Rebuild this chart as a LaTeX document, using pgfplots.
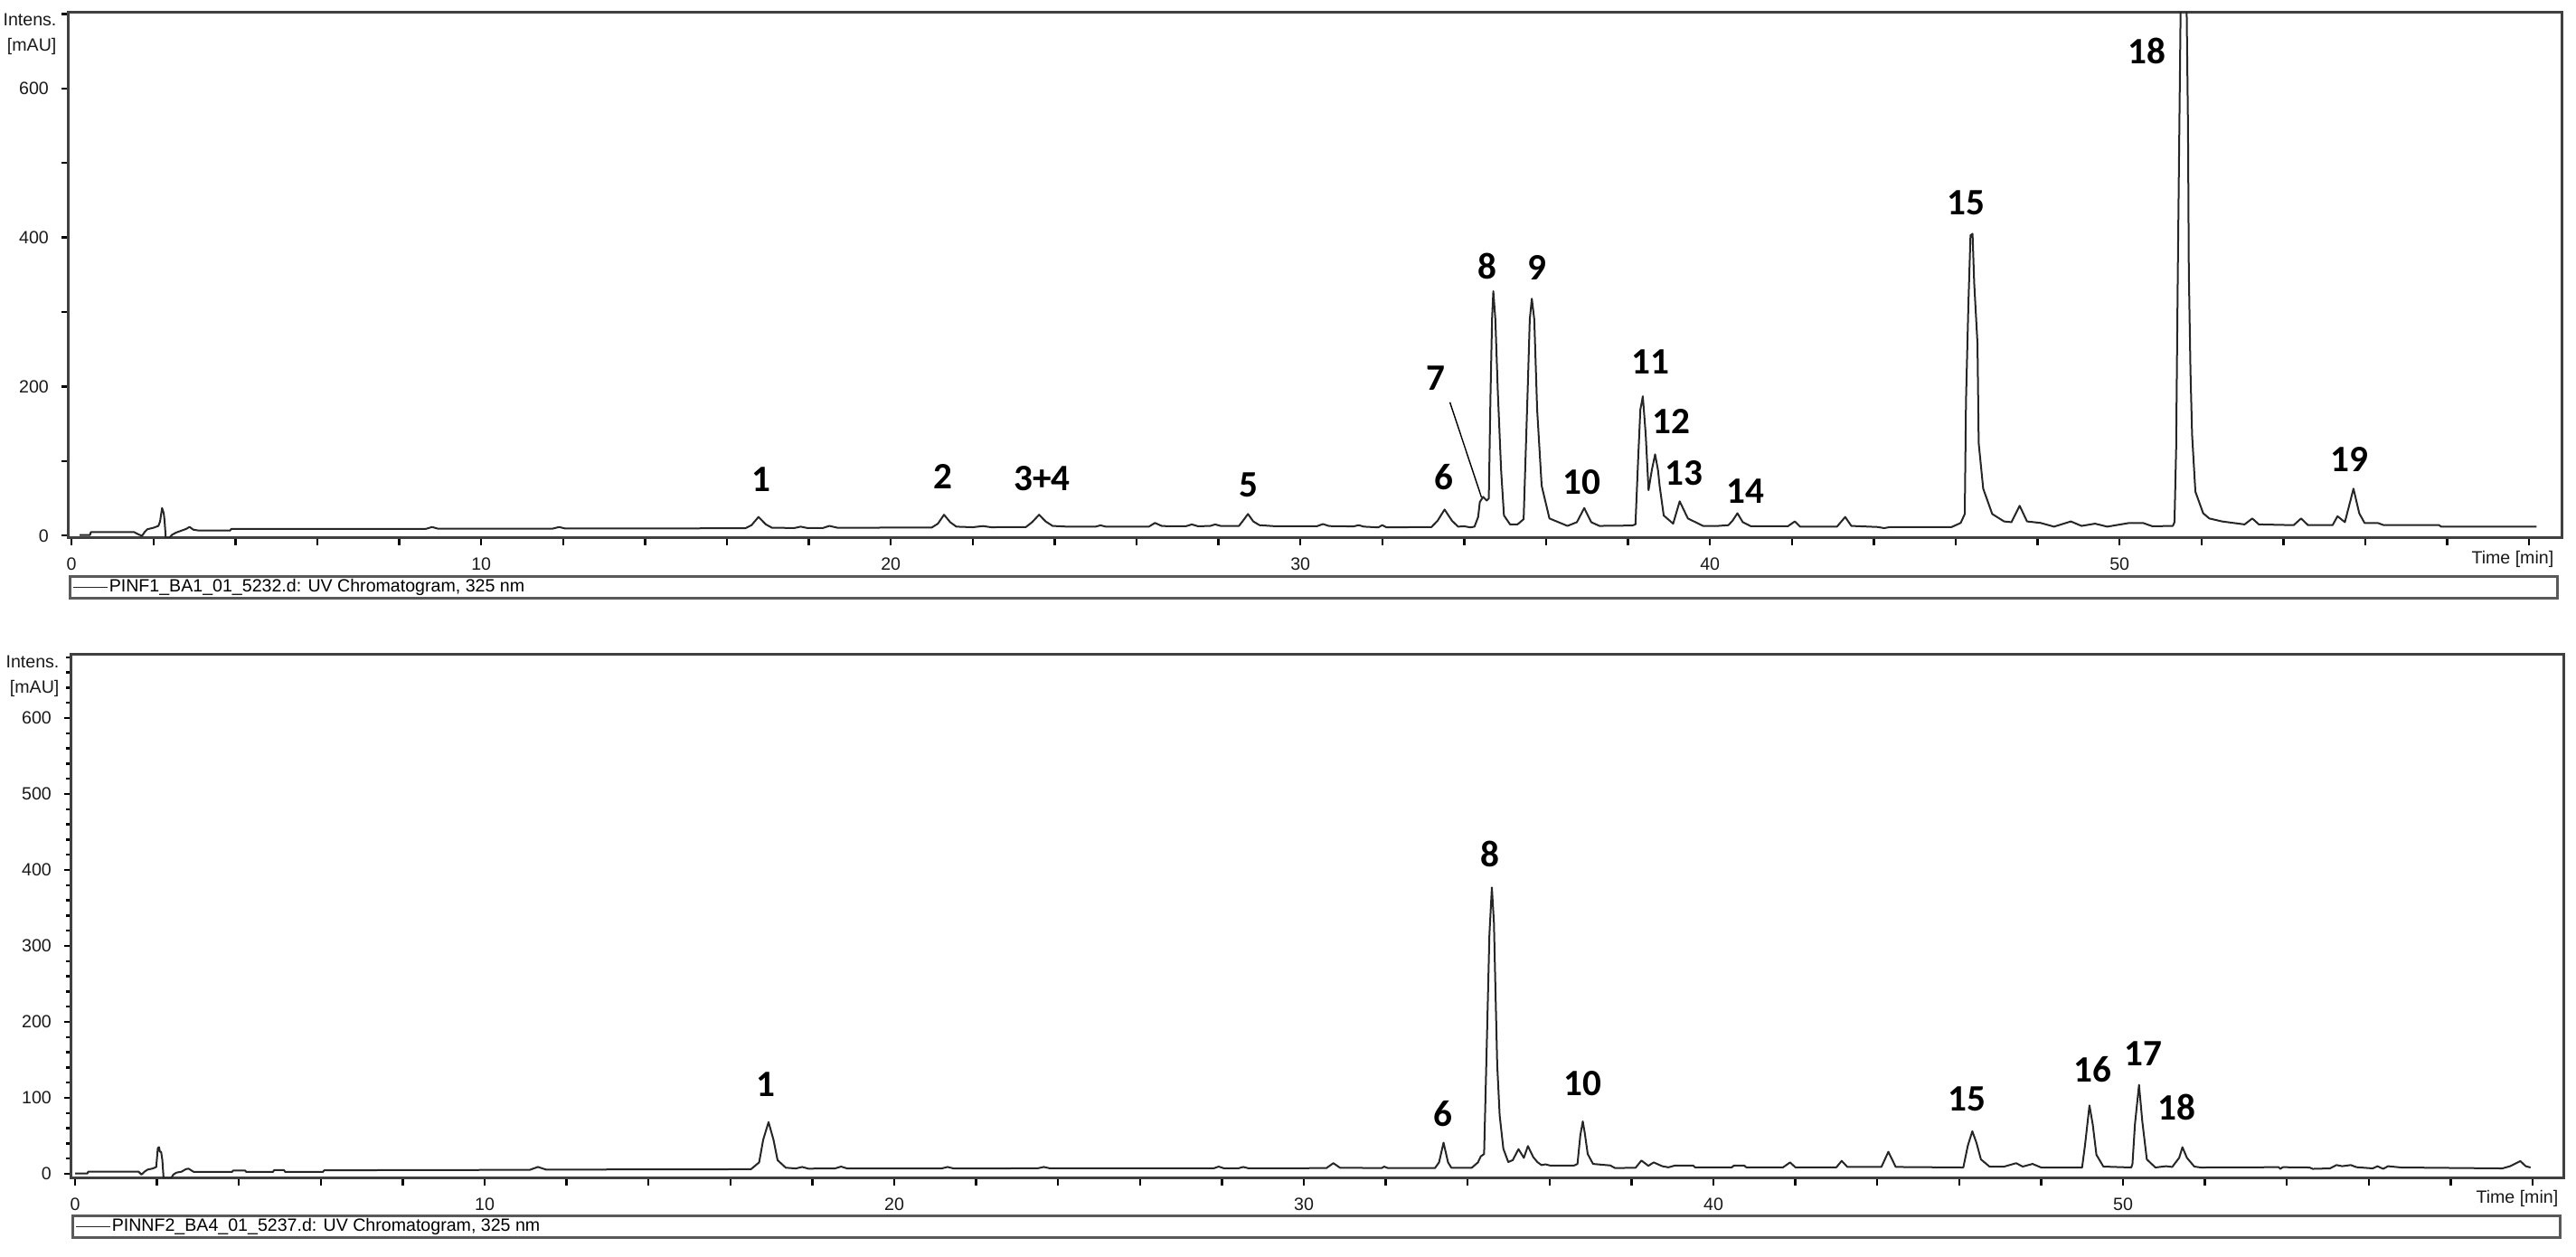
\documentclass[border=0pt]{standalone}
\usepackage{fontspec}
\setmainfont{Liberation Sans}
\newfontfamily\peakfont{Carlito}
\usepackage{pgfplots}
\pgfplotsset{compat=1.18}

\pgfplotsset{
  chrom/.style={
    scale only axis,
    axis line style={black!75, line width=0.75pt},
    tick style={black, line width=0.6pt},
    tick align=outside,
    major tick length=2pt,
    minor tick length=1.5pt,
    xtick pos=bottom, ytick pos=left,
    xtick={0,2,...,60},
    xticklabels={0,,,,,10,,,,,20,,,,,30,,,,,40,,,,,50,,,,,},
    tick label style={font=\fontsize{4.9}{5}\selectfont, text=black!90},
    /pgf/number format/assume math mode=true,
    every axis y label/.style={at={(axis description cs:0,1)}, anchor=north east,
      xshift=-3.2pt, align=right, inner sep=0pt,
      font=\fontsize{4.9}{7}\selectfont, text=black!90},
    legend image code/.code={\draw[black!85, line width=0.4pt] (0pt,0pt) -- (9.5pt,0pt);},
    legend cell align=left,
    legend style={anchor=north west, draw=black!65, line width=0.7pt,
      inner xsep=0.6pt, inner ysep=0.2pt, font=\fontsize{4.9}{5}\selectfont,
      nodes={inner sep=0.35pt, text height=3.8pt, text depth=1.1pt}},
  },
  trace/.style={black!85, line width=0.5pt, line join=round, no markers},
}
\tikzset{peak/.style={font=\peakfont\bfseries\fontsize{10.3}{12}\selectfont, inner sep=0pt}}

\begin{document}
\begin{tikzpicture}
\useasboundingbox (0,0) rectangle (712.25pt,347.5pt);

% ---- top run ----
\begin{axis}[chrom,
  at={(19pt,198.75pt)}, anchor=south west,
  width=689.25pt, height=145.25pt,
  xmin=-0.07, xmax=60.79, ymin=-3.3, ymax=701.8,
  ytick={0,100,...,700}, yticklabels={0,,200,,400,,600,},
  ylabel={Intens.\\{[mAU]}},
  xlabel={Time [min]},
  every axis x label/.style={at={(axis description cs:0.9971,0)}, anchor=east,
    yshift=-5.9pt, inner sep=0pt, font=\fontsize{4.9}{5}\selectfont, text=black!90},
  legend style={at={(0,-0.0706)}},
]
\addplot[trace] table {
0.20 0.7
0.45 0.7
0.47 4.6
1.53 4.6
1.62 2.0
1.72 -0.5
1.78 4.5
1.85 8.5
2.00 10.5
2.12 13
2.16 19
2.21 37
2.25 30
2.27 20
2.30 -3.3
2.38 -3.3
2.45 1
2.55 4
2.70 7
2.80 9
2.88 11.7
2.97 8
3.10 6.8
3.87 6.8
3.90 9
8.65 9
8.80 11.5
8.95 9.2
11.75 9.4
11.90 11.5
12.05 9.5
16.45 9.8
16.60 14
16.77 25
16.95 15
17.10 10.5
17.65 10.2
17.80 12
17.95 10.3
18.35 10.3
18.50 13
18.70 10.5
21.00 10.8
21.15 16
21.30 28
21.45 18
21.60 12
22.00 11.2
22.25 12.8
22.45 11.2
23.30 11.5
23.45 18
23.62 28
23.78 19
23.95 13
24.30 12
25.00 12
25.12 13.8
25.25 12
26.30 12
26.45 17
26.62 12.8
27.20 12.5
27.35 15
27.50 12.5
27.80 13
27.92 15
28.05 13
28.50 13
28.60 20
28.72 29
28.85 19
29.00 14
29.40 12.5
30.40 12.5
30.55 15.5
30.70 12.8
31.30 12.3
31.42 14
31.55 12
31.90 11
32.00 14
32.10 11
33.20 11.5
33.35 20
33.52 35
33.70 20
33.85 12
34.00 12.5
34.15 11
34.25 12
34.34 25
34.38 45
34.46 52
34.55 47
34.60 50
34.64 185
34.68 292
34.71 328
34.76 290
34.82 193
34.90 88
34.97 27
35.12 15
35.30 15
35.45 22
35.55 197
35.60 290
35.65 318
35.71 290
35.78 169
35.89 67
36.08 23
36.52 13
36.75 18
36.93 37
37.10 18
37.30 13
38.10 13.5
38.18 15
38.25 108
38.30 169
38.36 187
38.43 136
38.50 61
38.58 88
38.66 109
38.73 88
38.77 67
38.87 27
39.10 16
39.26 46
39.46 23
39.83 13
40.20 13
40.45 14
40.55 20
40.67 30
40.80 18
41.00 12.5
41.90 12.5
42.07 19
42.20 12
43.10 12
43.30 25
43.45 13
44.10 11.5
44.25 10
44.40 11.5
45.90 11.5
46.12 17
46.22 29
46.25 181
46.31 314
46.36 403
46.41 405
46.45 339
46.53 258
46.56 124
46.67 63
46.89 29
47.18 19
47.36 18
47.56 40
47.74 19
48.07 17
48.40 12
48.81 19
49.07 13
49.40 16
49.70 12
50.24 17
50.57 17
50.80 12.5
51.30 13
51.34 18
51.38 116
51.42 346
51.50 760
51.56 1200
51.63 740
51.67 549
51.69 355
51.73 221
51.77 135
51.85 59
52.04 30
52.19 23
52.50 19
53.05 15
53.24 23
53.40 15
54.25 14
54.43 23
54.60 14
55.20 14
55.32 26
55.50 18
55.71 63
55.85 30
55.98 17
56.30 17
56.45 14
57.80 14
57.85 12
60.18 12
};
\addlegendentry{\makebox[676pt][l]{PINF1\_BA1\_01\_5232.d: UV Chromatogram, 325 nm}}
\draw[black, line width=0.35pt] (axis cs:33.65,179) -- (axis cs:34.42,51.5);
\node[peak] at (axis cs:16.83,76) {1};
\node[peak] at (axis cs:21.28,79) {2};
\node[peak] at (axis cs:23.69,77) {3+4};
\node[peak] at (axis cs:28.74,68) {5};
\node[peak] at (axis cs:33.50,79) {6};
\node[peak] at (axis cs:33.31,211) {7};
\node[peak] at (axis cs:34.57,362) {8};
\node[peak] at (axis cs:35.77,359) {9};
\node[peak] at (axis cs:36.87,72) {10};
\node[peak] at (axis cs:38.54,233) {11};
\node[peak] at (axis cs:39.06,153) {12};
\node[peak] at (axis cs:39.37,84) {13};
\node[peak] at (axis cs:40.86,60) {14};
\node[peak] at (axis cs:46.25,447) {15};
\node[peak] at (axis cs:50.66,650) {18};
\node[peak] at (axis cs:55.62,102) {19};
\end{axis}

% ---- bottom run ----
\begin{axis}[chrom,
  at={(19.75pt,21.75pt)}, anchor=south west,
  width=689pt, height=144.75pt,
  xmin=-0.09, xmax=60.75, ymin=-5.95, ymax=683.3,
  ytick={0,100,...,600}, minor ytick={20,40,...,680},
  ylabel={Intens.\\{[mAU]}},
  xlabel={Time [min]},
  every axis x label/.style={at={(axis description cs:0.9982,0)}, anchor=east,
    yshift=-5.6pt, inner sep=0pt, font=\fontsize{4.9}{5}\selectfont, text=black!90},
  legend style={at={(0,-0.0691)}},
]
\addplot[trace] table {
0.00 0.4
0.30 0.4
0.32 2.8
1.55 2.8
1.62 -1
1.70 3
1.77 5.5
1.90 7
1.98 9
2.02 34
2.05 35
2.07 29
2.10 29
2.13 18
2.16 -6
2.34 -6
2.40 -1
2.47 1.5
2.60 2.8
2.70 6
2.77 6.8
2.85 4
2.90 2.4
3.83 2.4
3.86 4.4
4.15 4.4
4.18 2.4
4.83 2.4
4.86 4.8
5.10 4.8
5.13 2.4
6.05 2.4
6.08 4.6
11.10 5.2
11.30 9
11.50 5.5
16.50 6
16.70 15
16.80 45
16.93 68
17.05 45
17.15 18
17.35 8
17.60 7
17.75 9
17.90 6.8
18.55 7
18.70 9.5
18.85 7
21.15 7
21.30 9
21.45 7
23.50 7.2
23.65 9
23.80 7.2
27.80 7.2
27.92 9.5
28.05 7.2
28.40 7.2
28.52 9
28.65 7.2
30.55 7.5
30.72 14
30.88 8
31.90 7.5
31.96 9.5
32.05 7.5
33.20 7.5
33.30 15
33.41 41
33.52 15
33.60 8
34.10 8
34.25 15
34.32 23
34.40 26
34.47 180
34.53 315
34.59 377
34.64 331
34.68 236
34.72 144
34.78 77
34.87 33
34.99 15.5
35.10 18
35.24 32.5
35.37 21
35.47 36.5
35.60 22
35.70 15.5
35.80 11.5
35.90 12.5
36.00 11
36.60 11
36.68 13
36.75 51
36.81 69
36.86 53
36.93 26
37.06 13
37.48 11
37.60 7.5
38.10 8
38.24 17.5
38.41 10.5
38.54 15
38.75 10
38.90 8.5
39.07 11
39.50 11
39.55 8.5
40.45 8.5
40.50 11
40.75 11
40.80 8.5
41.70 8.5
41.87 15
42.00 8.5
43.00 8.5
43.13 17
43.27 9
44.10 9
44.27 29
44.45 9
46.10 8.3
46.21 37
46.32 56
46.42 41
46.53 19
46.74 9.5
47.10 9.5
47.39 14
47.55 9.5
47.79 13
48.00 8.3
49.00 8.3
49.07 37
49.18 90
49.26 65
49.35 25
49.52 9.5
50.20 8.3
50.23 13
50.29 65
50.39 117
50.47 69
50.58 19
50.79 8.3
51.05 10
51.20 9
51.37 21
51.45 35
51.56 21
51.74 9.5
51.90 8.3
53.80 8.7
53.84 6.5
53.90 8.7
54.55 8.3
54.63 6.5
55.05 7.1
55.21 11.5
55.35 10
55.56 11.5
55.70 8.7
56.10 7.1
56.21 10
56.35 6.5
56.47 10
56.79 8.3
59.26 7.1
59.45 10
59.70 16.7
59.83 10
59.95 8.3
};
\addlegendentry{\makebox[676pt][l]{PINNF2\_BA4\_01\_5237.d: UV Chromatogram, 325 nm}}
\node[peak] at (axis cs:16.86,118) {1};
\node[peak] at (axis cs:33.39,79) {6};
\node[peak] at (axis cs:34.55,421) {8};
\node[peak] at (axis cs:36.80,119) {10};
\node[peak] at (axis cs:46.18,98) {15};
\node[peak] at (axis cs:49.26,137) {16};
\node[peak] at (axis cs:50.50,158) {17};
\node[peak] at (axis cs:51.32,88) {18};
\end{axis}
\end{tikzpicture}
\end{document}
